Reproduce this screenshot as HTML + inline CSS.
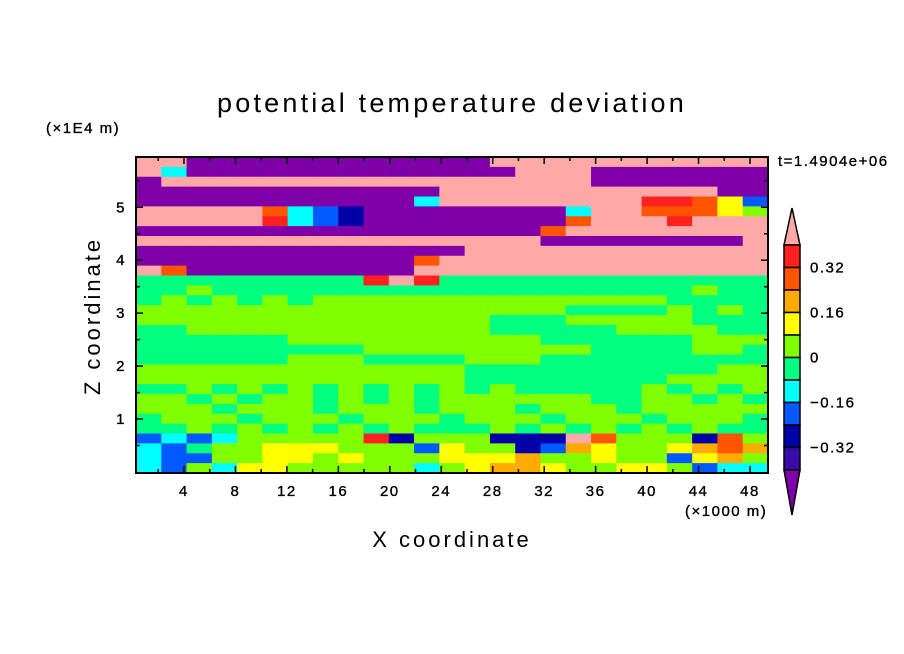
<!DOCTYPE html>
<html><head><meta charset="utf-8">
<style>
body{margin:0;background:#fff;}
svg{display:block;font-family:"Liberation Sans",sans-serif;}
.sm{font-size:15px;letter-spacing:1.5px;stroke:#000;stroke-width:0.35px;}
</style></head>
<body>
<svg id="chart" width="904" height="654" viewBox="0 0 904 654" xmlns="http://www.w3.org/2000/svg">
<rect width="904" height="654" fill="#fff"/>
<text x="452" y="112" font-size="27" text-anchor="middle" letter-spacing="3.2">potential temperature deviation</text>
<text class="sm" x="46" y="133" letter-spacing="3">(×1E4 m)</text>
<text class="sm" x="778" y="166">t=1.4904e+06</text>
<text class="sm" x="685" y="516" letter-spacing="2">(×1000 m)</text>
<text x="452" y="547" font-size="22" text-anchor="middle" letter-spacing="3">X coordinate</text>
<text transform="translate(100,316) rotate(-90)" font-size="22" text-anchor="middle" letter-spacing="3">Z coordinate</text>
<g id="cells"></g>
<g id="axes"></g>
<g id="cbar"></g>
</svg>
<script>
// band colors, index = level code
const bandColors = ["#7f00a8","#3a0ca8","#0000a8","#005aff","#00ffff","#00ff80","#80ff00","#ffff00","#ffaa00","#ff5500","#ff2020","#ffa8a8"];
const xTicks = [4,8,12,16,20,24,28,32,36,40,44,48];
const yTicks = [1,2,3,4,5];
const cbarLabels = ["0.32","0.16","0","-0.16","-0.32"];
// coarse grid of contour band codes, top row first (a=10, b=11)
const fieldRows = [
"bb000000000000bbbbbbbbbbb",
"b40000000000000bbb0000000",
"0bbbbbbbbbbbbbbbbb0000000",
"000000000000bbbbbbbbbbb00",
"000000000004bbbbbbbbaa973",
"bbbbb9432000000004bb99976",
"bbbbba432000000009bbbabbb",
"00000000000000009bbbbbbbb",
"bbbbbbbbbbbbbbbb00000000b",
"0000000000000bbbbbbbbbbbb",
"000000000009bbbbbbbbbbbbb",
"b9000000000bbbbbbbbbbbbbb",
"555555555aba5555555555555",
"5565555555555555555555655",
"5656565666666666666665555",
"6666666666666666655556565",
"6666666666666655566666555",
"5566666666666655555666655",
"5555556666666666555555666",
"5555555556666666665555665",
"5555556665555666555555555",
"6666666666666555555555566",
"6666666666666555555556666",
"5565656565656565555565656",
"6656566565656666665566565",
"6665666566656665666566666",
"5666566656665666566656665",
"5565656565655565656565655",
"343466666a2666222b9666296",
"4356677766637662387667898",
"4336677676667778667663786",
"4364776666646788766776344"
];
const X0=136,X1=768,Y0=157,Y1=473;
const xMin=0.27,xMax=49.4,yMin=-0.02,yMax=5.95;
function xs(v){return X0+(v-xMin)/(xMax-xMin)*(X1-X0);}
function ys(v){return Y1-(v-yMin)/(yMax-yMin)*(Y1-Y0);}
const NS="http://www.w3.org/2000/svg";
function mk(tag,attrs,parent){const e=document.createElementNS(NS,tag);for(const k in attrs)e.setAttribute(k,attrs[k]);parent.appendChild(e);return e;}
const cells=document.getElementById('cells');
const nr=fieldRows.length;
const nc=25;
const cw=(X1-X0)/nc, rh=(Y1-Y0)/nr;
for(let r=0;r<nr;r++){
  const row=fieldRows[r];
  for(let c=0;c<nc;c++){
    const code=parseInt(row[c]||'5',16);
    const e=mk('rect',{x:(X0+c*cw).toFixed(2),y:(Y0+r*rh).toFixed(2),width:(cw+0.6).toFixed(2),height:(rh+0.6).toFixed(2),fill:bandColors[code]},cells);
    
    
  }
}
const axes=document.getElementById('axes');
const frame=mk('rect',{x:X0,y:Y0,width:X1-X0,height:Y1-Y0,fill:'none',stroke:'#000','stroke-width':2},axes);


for(let v=2;v<=49;v+=2){
  const x=xs(v), major=(v%4===0), L=major?7:4;
  mk('line',{x1:x,y1:Y1,x2:x,y2:Y1-L,stroke:'#000','stroke-width':1.5},axes);
  mk('line',{x1:x,y1:Y0,x2:x,y2:Y0+L,stroke:'#000','stroke-width':1.5},axes);
}
for(let v=0.5;v<=5.9;v+=0.5){
  const y=ys(v), major=Math.abs(v-Math.round(v))<0.01, L=major?7:4;
  mk('line',{x1:X0,y1:y,x2:X0+L,y2:y,stroke:'#000','stroke-width':1.5},axes);
  mk('line',{x1:X1,y1:y,x2:X1-L,y2:y,stroke:'#000','stroke-width':1.5},axes);
}
xTicks.forEach(v=>{
  const t=mk('text',{x:xs(v),y:496,'text-anchor':'middle','class':'sm'},axes);
  t.textContent=v;
  
  
});
yTicks.forEach(v=>{
  const t=mk('text',{x:126,y:ys(v)+5,'text-anchor':'end','class':'sm'},axes);
  t.textContent=v;
  
  
});
// colorbar
const cb=document.getElementById('cbar');
const CX0=784,CX1=800,CT=245,CB=470;
const boxColors=bandColors.slice(1,11).reverse();
const bh=(CB-CT)/boxColors.length;
const up=mk('polygon',{points:`${CX0},${CT} ${(CX0+CX1)/2},208 ${CX1},${CT}`,fill:bandColors[11],stroke:'#000','stroke-width':1.5},cb);


boxColors.forEach((col,i)=>{
  const e=mk('rect',{x:CX0,y:CT+i*bh,width:CX1-CX0,height:bh,fill:col,stroke:'#000','stroke-width':1.5},cb);
  
  
});
const dn=mk('polygon',{points:`${CX0},${CB} ${(CX0+CX1)/2},515 ${CX1},${CB}`,fill:bandColors[0],stroke:'#000','stroke-width':1.5},cb);


cbarLabels.forEach((s,i)=>{
  const t=mk('text',{x:810,y:CT+(1+2*i)*bh+5,'class':'sm'},cb);
  t.textContent=s.replace('-','\u2212');
  
  
});
</script>
</body></html>
